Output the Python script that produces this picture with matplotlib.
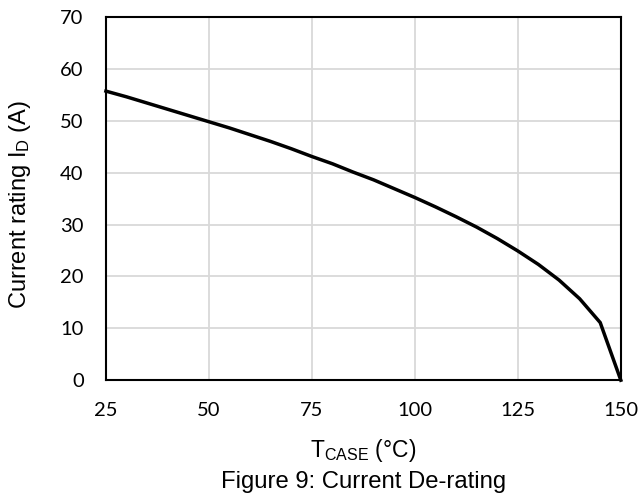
import matplotlib
matplotlib.use("Agg")
import matplotlib.pyplot as plt

# case temperature (degC) and current rating (A)
t_case = [25, 30, 35, 40, 45, 50, 55, 60, 65, 70, 75, 80, 85, 90, 95,
          100, 105, 110, 115, 120, 125, 130, 135, 140, 145, 150]
i_d = [55.7, 54.6, 53.4, 52.2, 51.0, 49.8, 48.6, 47.3, 46.0, 44.6, 43.1, 41.7, 40.1, 38.6, 36.9,
       35.2, 33.4, 31.5, 29.5, 27.3, 24.9, 22.3, 19.3, 15.7, 11.1, 0.0]
x_ticks = [25, 50, 75, 100, 125, 150]
y_ticks = [0, 10, 20, 30, 40, 50, 60, 70]

plt.rcParams["font.family"] = ["Lato", "DejaVu Sans"]
plt.rcParams["mathtext.default"] = "regular"
ARIAL = ["Liberation Sans", "DejaVu Sans"]

fig = plt.figure(figsize=(6.42, 4.97), dpi=100)
ax = fig.add_axes([0.165, 0.235, 0.802, 0.731])

ax.plot(t_case, i_d, color="black", lw=2.5, solid_joinstyle="miter", zorder=3, clip_on=False)

ax.set_xlim(25, 150)
ax.set_ylim(0, 70)
ax.set_xticks(x_ticks)
ax.set_yticks(y_ticks)
ax.grid(True, color="#d9d9d9", lw=1.3)
ax.set_axisbelow(True)
ax.tick_params(length=0, labelsize=14.5)
ax.tick_params(axis="x", pad=16)
ax.tick_params(axis="y", pad=16)
for s in ax.spines.values():
    s.set_color("black")
    s.set_linewidth(1.5)

# axis titles placed in figure pixels to match the datasheet layout
fig.text(20 / 642, 1 - 204 / 497, "Current rating I$_{D}$ (A)", rotation=90, ha="center", va="center",
         fontsize=17, family=ARIAL)
xc = 0.5 * (0.165 + 0.967)
fig.text(xc, 1 - 457 / 497, "T$_{CASE}$ (°C)", ha="center", va="baseline", fontsize=16.5, family=ARIAL)
fig.text(xc, 1 - 488 / 497, "Figure 9: Current De-rating", ha="center", va="baseline",
         fontsize=17.2, family=ARIAL)

fig.savefig("out.png", dpi=100)
